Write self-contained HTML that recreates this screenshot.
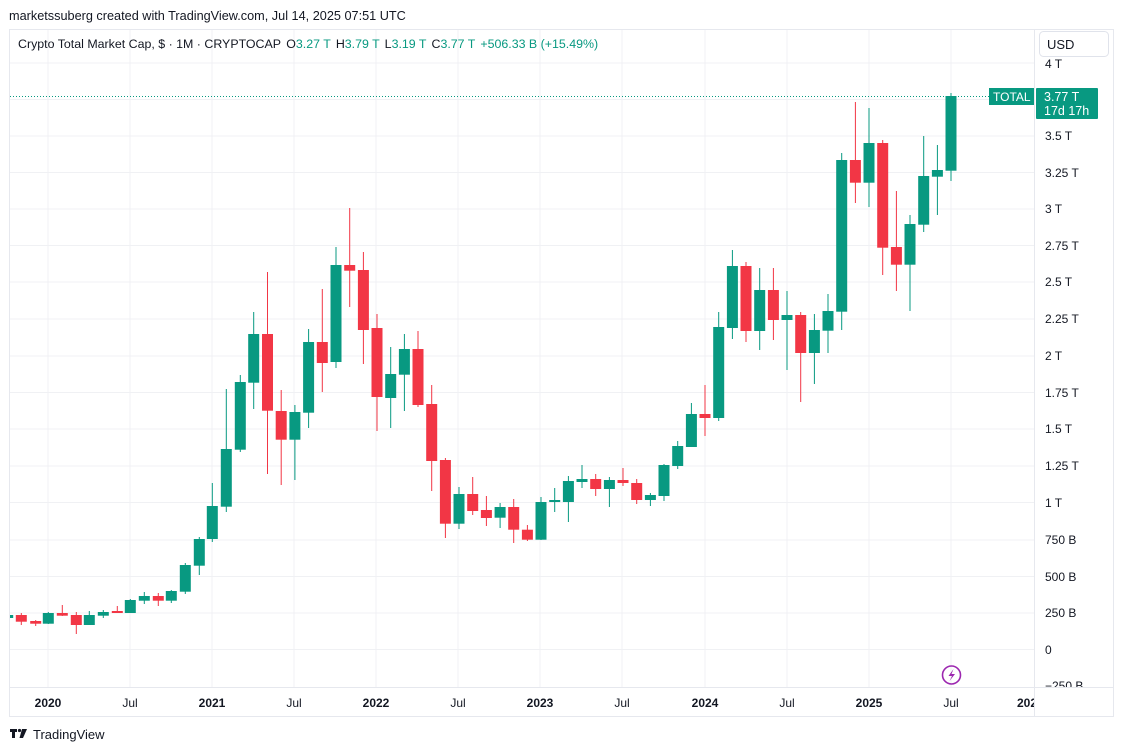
<!DOCTYPE html>
<html><head><meta charset="utf-8"><style>
body{margin:0;background:#fff;width:1123px;height:751px;overflow:hidden;font-family:"Liberation Sans",sans-serif}
</style></head><body>
<svg width="1123" height="751" xmlns="http://www.w3.org/2000/svg" font-family="Liberation Sans, sans-serif">
<rect width="1123" height="751" fill="#fff"/>
<text x="9" y="20" font-size="12.7" fill="#131722">marketssuberg created with TradingView.com, Jul 14, 2025 07:51 UTC</text>
<rect x="9.5" y="29.5" width="1104" height="687" fill="none" stroke="#e6e8ee"/>
<line x1="1034.5" y1="30" x2="1034.5" y2="716" stroke="#e6e8ee"/>
<line x1="10" y1="687.5" x2="1113" y2="687.5" stroke="#e6e8ee"/>
<g stroke="#f0f1f4" stroke-width="1">
<line x1="48" y1="30" x2="48" y2="687"/><line x1="130" y1="30" x2="130" y2="687"/><line x1="212" y1="30" x2="212" y2="687"/><line x1="294" y1="30" x2="294" y2="687"/><line x1="376" y1="30" x2="376" y2="687"/><line x1="458" y1="30" x2="458" y2="687"/><line x1="540" y1="30" x2="540" y2="687"/><line x1="622" y1="30" x2="622" y2="687"/><line x1="705" y1="30" x2="705" y2="687"/><line x1="787" y1="30" x2="787" y2="687"/><line x1="869" y1="30" x2="869" y2="687"/><line x1="951" y1="30" x2="951" y2="687"/>
<line x1="10" y1="63" x2="1034" y2="63"/><line x1="10" y1="99.5" x2="1034" y2="99.5"/><line x1="10" y1="136" x2="1034" y2="136"/><line x1="10" y1="172.5" x2="1034" y2="172.5"/><line x1="10" y1="209" x2="1034" y2="209"/><line x1="10" y1="245.5" x2="1034" y2="245.5"/><line x1="10" y1="282" x2="1034" y2="282"/><line x1="10" y1="319" x2="1034" y2="319"/><line x1="10" y1="356" x2="1034" y2="356"/><line x1="10" y1="392.5" x2="1034" y2="392.5"/><line x1="10" y1="429" x2="1034" y2="429"/><line x1="10" y1="466" x2="1034" y2="466"/><line x1="10" y1="502.5" x2="1034" y2="502.5"/><line x1="10" y1="540" x2="1034" y2="540"/><line x1="10" y1="576.5" x2="1034" y2="576.5"/><line x1="10" y1="613" x2="1034" y2="613"/><line x1="10" y1="649.5" x2="1034" y2="649.5"/>
</g>
<text x="18" y="48" font-size="12.4" fill="#131722">Crypto Total Market Cap, $ · 1M · CRYPTOCAP <tspan dx="2">O</tspan><tspan fill="#089981">3.27 T</tspan><tspan dx="5">H</tspan><tspan fill="#089981">3.79 T</tspan><tspan dx="5">L</tspan><tspan fill="#089981">3.19 T</tspan><tspan dx="5">C</tspan><tspan fill="#089981">3.77 T</tspan><tspan dx="5" fill="#089981">+506.33 B (+15.49%)</tspan></text>
<line x1="10" y1="96.5" x2="990" y2="96.5" stroke="#089981" stroke-dasharray="1,2"/>
<defs><clipPath id="cp"><rect x="10" y="30" width="1024" height="657"/></clipPath></defs>
<g clip-path="url(#cp)">
<g fill="#089981">
<rect x="7.2" y="614" width="1" height="5"/><rect x="2.2" y="615" width="11" height="3"/>
<rect x="47.8" y="612" width="1" height="12"/><rect x="42.8" y="613" width="11" height="10.7"/>
<rect x="88.8" y="611" width="1" height="14"/><rect x="83.8" y="615" width="11" height="10"/>
<rect x="102.8" y="610" width="1" height="8"/><rect x="97.8" y="612" width="11" height="3.7"/>
<rect x="129.8" y="599" width="1" height="14"/><rect x="124.8" y="600" width="11" height="13"/>
<rect x="143.8" y="592" width="1" height="12"/><rect x="138.8" y="596" width="11" height="4.7"/>
<rect x="170.8" y="590" width="1" height="13"/><rect x="165.8" y="591" width="11" height="9.7"/>
<rect x="184.8" y="563" width="1" height="31"/><rect x="179.8" y="565" width="11" height="26.7"/>
<rect x="198.8" y="537" width="1" height="38"/><rect x="193.8" y="539" width="11" height="26.7"/>
<rect x="211.8" y="483" width="1" height="59"/><rect x="206.8" y="506" width="11" height="33"/>
<rect x="225.8" y="389" width="1" height="123"/><rect x="220.8" y="449" width="11" height="57.7"/>
<rect x="239.8" y="375" width="1" height="77"/><rect x="234.8" y="382" width="11" height="67.7"/>
<rect x="253.2" y="312" width="1" height="97"/><rect x="248.2" y="334" width="11" height="48.7"/>
<rect x="294.4" y="405" width="1" height="75"/><rect x="289.4" y="412" width="11" height="27.7"/>
<rect x="308.1" y="329" width="1" height="99"/><rect x="303.1" y="342" width="11" height="70.7"/>
<rect x="335.5" y="247" width="1" height="121"/><rect x="330.5" y="265" width="11" height="97"/>
<rect x="390.2" y="347" width="1" height="81"/><rect x="385.2" y="374" width="11" height="24"/>
<rect x="403.9" y="334" width="1" height="77"/><rect x="398.9" y="349" width="11" height="25.7"/>
<rect x="458.5" y="487" width="1" height="42"/><rect x="453.5" y="494" width="11" height="29.7"/>
<rect x="499.6" y="503" width="1" height="25"/><rect x="494.6" y="507" width="11" height="10.7"/>
<rect x="540.5" y="497" width="1" height="43"/><rect x="535.5" y="502" width="11" height="37.7"/>
<rect x="554.2" y="488" width="1" height="24"/><rect x="549.2" y="500" width="11" height="2"/>
<rect x="567.9" y="476" width="1" height="46"/><rect x="562.9" y="481" width="11" height="21"/>
<rect x="581.5" y="465" width="1" height="23"/><rect x="576.5" y="479" width="11" height="3"/>
<rect x="608.9" y="477" width="1" height="30"/><rect x="603.9" y="480" width="11" height="9"/>
<rect x="649.9" y="493" width="1" height="13"/><rect x="644.9" y="495" width="11" height="5"/>
<rect x="663.5" y="464" width="1" height="37"/><rect x="658.5" y="465" width="11" height="31"/>
<rect x="677.2" y="441" width="1" height="28"/><rect x="672.2" y="446" width="11" height="20"/>
<rect x="690.9" y="403" width="1" height="44"/><rect x="685.9" y="414" width="11" height="33"/>
<rect x="718.2" y="312" width="1" height="109"/><rect x="713.2" y="327" width="11" height="91"/>
<rect x="731.9" y="250" width="1" height="89"/><rect x="726.9" y="266" width="11" height="62"/>
<rect x="759.2" y="268" width="1" height="82"/><rect x="754.2" y="290" width="11" height="41"/>
<rect x="786.5" y="291" width="1" height="79"/><rect x="781.5" y="315" width="11" height="5"/>
<rect x="813.9" y="314" width="1" height="70"/><rect x="808.9" y="330" width="11" height="23"/>
<rect x="827.5" y="294" width="1" height="59"/><rect x="822.5" y="311" width="11" height="19.7"/>
<rect x="841.2" y="153" width="1" height="177"/><rect x="836.2" y="160" width="11" height="151.7"/>
<rect x="868.5" y="108" width="1" height="99"/><rect x="863.5" y="143" width="11" height="39.7"/>
<rect x="909.5" y="215" width="1" height="96"/><rect x="904.5" y="224" width="11" height="40.7"/>
<rect x="923.2" y="136" width="1" height="96"/><rect x="918.2" y="176" width="11" height="48.7"/>
<rect x="936.9" y="145" width="1" height="70"/><rect x="931.9" y="170" width="11" height="6.7"/>
<rect x="950.5" y="93" width="1" height="88"/><rect x="945.5" y="96" width="11" height="74.7"/>
</g>
<g fill="#F23645">
<rect x="20.8" y="613" width="1" height="12"/><rect x="15.8" y="615" width="11" height="6.7"/>
<rect x="35.2" y="620" width="1" height="6"/><rect x="30.2" y="621" width="11" height="2.7"/>
<rect x="61.8" y="605" width="1" height="11"/><rect x="56.8" y="613" width="11" height="2.7"/>
<rect x="75.8" y="612" width="1" height="22"/><rect x="70.8" y="615" width="11" height="10"/>
<rect x="116.8" y="606" width="1" height="7"/><rect x="111.8" y="611" width="11" height="2"/>
<rect x="157.8" y="593" width="1" height="13"/><rect x="152.8" y="596" width="11" height="4.7"/>
<rect x="267" y="272" width="1" height="202"/><rect x="262" y="334" width="11" height="76.7"/>
<rect x="280.7" y="390" width="1" height="95"/><rect x="275.7" y="411" width="11" height="28.7"/>
<rect x="321.8" y="289" width="1" height="103"/><rect x="316.8" y="342" width="11" height="21"/>
<rect x="349.2" y="208" width="1" height="99"/><rect x="344.2" y="265" width="11" height="5.7"/>
<rect x="362.9" y="252" width="1" height="112"/><rect x="357.9" y="270" width="11" height="60"/>
<rect x="376.5" y="314" width="1" height="117"/><rect x="371.5" y="328" width="11" height="69"/>
<rect x="417.5" y="331" width="1" height="76"/><rect x="412.5" y="349" width="11" height="56"/>
<rect x="431.2" y="385" width="1" height="106"/><rect x="426.2" y="404" width="11" height="57"/>
<rect x="444.9" y="458" width="1" height="80"/><rect x="439.9" y="460" width="11" height="63.7"/>
<rect x="472.2" y="477" width="1" height="38"/><rect x="467.2" y="494" width="11" height="17"/>
<rect x="485.9" y="496" width="1" height="30"/><rect x="480.9" y="510" width="11" height="8"/>
<rect x="513.2" y="499" width="1" height="44"/><rect x="508.2" y="507" width="11" height="22.7"/>
<rect x="526.9" y="525" width="1" height="16"/><rect x="521.9" y="529.7" width="11" height="10"/>
<rect x="595.2" y="474" width="1" height="22"/><rect x="590.2" y="479" width="11" height="10"/>
<rect x="622.5" y="468" width="1" height="18"/><rect x="617.5" y="480" width="11" height="3"/>
<rect x="636.2" y="479" width="1" height="25"/><rect x="631.2" y="483" width="11" height="17"/>
<rect x="704.5" y="385" width="1" height="51"/><rect x="699.5" y="414" width="11" height="4"/>
<rect x="745.5" y="262" width="1" height="80"/><rect x="740.5" y="266" width="11" height="65"/>
<rect x="772.9" y="268" width="1" height="72"/><rect x="767.9" y="290" width="11" height="30"/>
<rect x="800.2" y="312" width="1" height="90"/><rect x="795.2" y="315" width="11" height="38"/>
<rect x="854.9" y="102" width="1" height="101"/><rect x="849.9" y="160" width="11" height="22.7"/>
<rect x="882.2" y="140" width="1" height="135"/><rect x="877.2" y="143" width="11" height="104.7"/>
<rect x="895.9" y="191" width="1" height="100"/><rect x="890.9" y="247" width="11" height="17.7"/>
</g>
</g>
<rect x="989" y="88" width="45" height="17" fill="#089981"/>
<text x="993" y="101" font-size="12" fill="#fff">TOTAL</text>
<rect x="1036" y="88" width="62" height="31" rx="1" fill="#089981"/>
<text x="1044" y="101" font-size="12.5" fill="#fff">3.77 T</text>
<text x="1044" y="115" font-size="12.5" fill="#fff">17d 17h</text>
<g font-size="12" fill="#131722">
<text x="1045" y="68">4 T</text>
<text x="1045" y="140">3.5 T</text><text x="1045" y="177">3.25 T</text><text x="1045" y="213">3 T</text><text x="1045" y="250">2.75 T</text><text x="1045" y="286">2.5 T</text><text x="1045" y="323">2.25 T</text><text x="1045" y="360">2 T</text><text x="1045" y="397">1.75 T</text><text x="1045" y="433">1.5 T</text><text x="1045" y="470">1.25 T</text><text x="1045" y="507">1 T</text><text x="1045" y="544">750 B</text><text x="1045" y="581">500 B</text><text x="1045" y="617">250 B</text><text x="1045" y="654">0</text>
</g>
<svg x="1035" y="680" width="78" height="7"><text x="10" y="10" font-size="12" fill="#131722">−250 B</text></svg>
<rect x="1039.5" y="31.5" width="69" height="25" rx="4" fill="#fff" stroke="#e0e3eb"/>
<text x="1047" y="49" font-size="13" fill="#131722">USD</text>
<circle cx="951.5" cy="675" r="9" fill="none" stroke="#9c27b0" stroke-width="1.6"/>
<path d="M953.5 669 L948.5 676 L952 676 L949.5 681 L955 674 L951.5 674 Z" fill="#9c27b0"/>
<g font-size="12" fill="#131722" text-anchor="middle">
<text x="48" y="707" font-weight="bold">2020</text><text x="130" y="707">Jul</text>
<text x="212" y="707" font-weight="bold">2021</text><text x="294" y="707">Jul</text>
<text x="376" y="707" font-weight="bold">2022</text><text x="458" y="707">Jul</text>
<text x="540" y="707" font-weight="bold">2023</text><text x="622" y="707">Jul</text>
<text x="705" y="707" font-weight="bold">2024</text><text x="787" y="707">Jul</text>
<text x="869" y="707" font-weight="bold">2025</text><text x="951" y="707">Jul</text>
</g>
<svg x="1010" y="690" width="24" height="25"><text x="7" y="17" font-size="12" font-weight="bold" fill="#131722">2026</text></svg>
<g fill="#131722">
<rect x="10" y="729" width="7" height="3"/><rect x="12" y="729" width="3" height="9"/>
<circle cx="19.5" cy="730.5" r="1.6"/><path d="M22 729 L27 729 L23 738 L19.5 738 Z"/>
</g>
<text x="33" y="739" font-size="13" fill="#131722">TradingView</text>
</svg>
</body></html>
